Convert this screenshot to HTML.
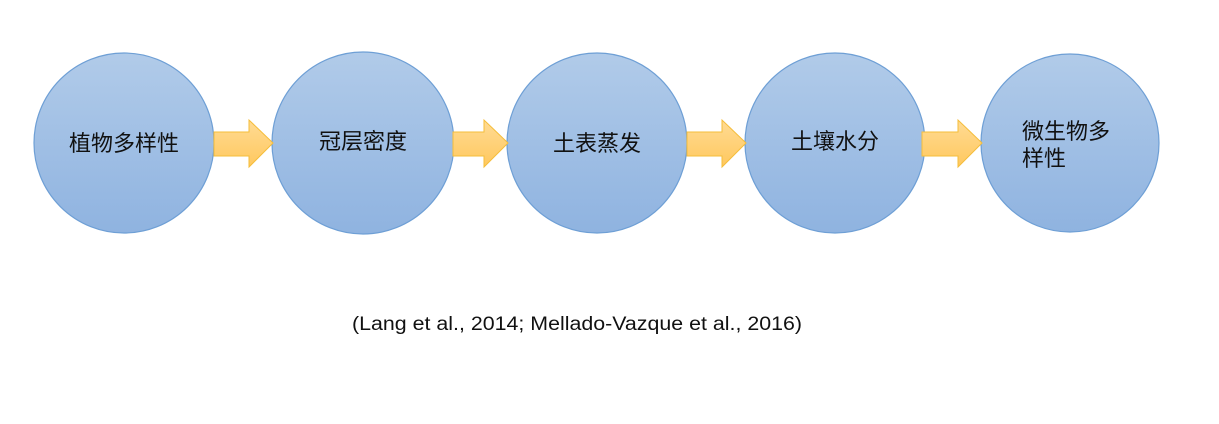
<!DOCTYPE html>
<html><head><meta charset="utf-8"><style>
html,body{margin:0;padding:0;background:#fff;width:1219px;height:424px;overflow:hidden}
.t{font-family:"Liberation Sans","Noto Sans CJK SC",sans-serif;font-size:22px;fill:#111}
</style></head><body>
<svg width="1219" height="424" xmlns="http://www.w3.org/2000/svg">
<defs>
<linearGradient id="g" x1="0" y1="0" x2="0" y2="1">
<stop offset="0" stop-color="#b1cbe9"/><stop offset="1" stop-color="#8fb3e0"/></linearGradient>
<linearGradient id="a" x1="0" y1="0" x2="0" y2="1">
<stop offset="0" stop-color="#ffdb94"/><stop offset="1" stop-color="#ffc85e"/></linearGradient>
</defs>
<g stroke="#6e9fd5" stroke-width="1.2" fill="url(#g)">
<circle cx="124" cy="143" r="90"/>
<circle cx="363" cy="143" r="91"/>
<circle cx="597" cy="143" r="90"/>
<circle cx="835" cy="143" r="90"/>
<circle cx="1070" cy="143" r="89"/>
</g>
<g fill="url(#a)" stroke="#f5bd3a" stroke-width="1">
<polygon points="214,132 249,132 249,120 273,143 249,167 249,156 214,156"/>
<polygon points="453,132 484,132 484,120 508,143 484,167 484,156 453,156"/>
<polygon points="687,132 722,132 722,120 746,143 722,167 722,156 687,156"/>
<polygon points="922,132 958,132 958,120 982,143 958,167 958,156 922,156"/>
</g>
<text class="t" x="124" y="151" text-anchor="middle">植物多样性</text>
<text class="t" x="363" y="149" text-anchor="middle">冠层密度</text>
<text class="t" x="597" y="151" text-anchor="middle">土表蒸发</text>
<text class="t" x="835" y="149" text-anchor="middle">土壤水分</text>
<text class="t" x="1022" y="139">微生物多</text>
<text class="t" x="1022" y="166">样性</text>
<text x="352" y="330" font-family="Liberation Sans,sans-serif" font-size="19" fill="#111" textLength="450" lengthAdjust="spacingAndGlyphs">(Lang et al., 2014; Mellado-Vazque et al., 2016)</text>
</svg>
</body></html>
